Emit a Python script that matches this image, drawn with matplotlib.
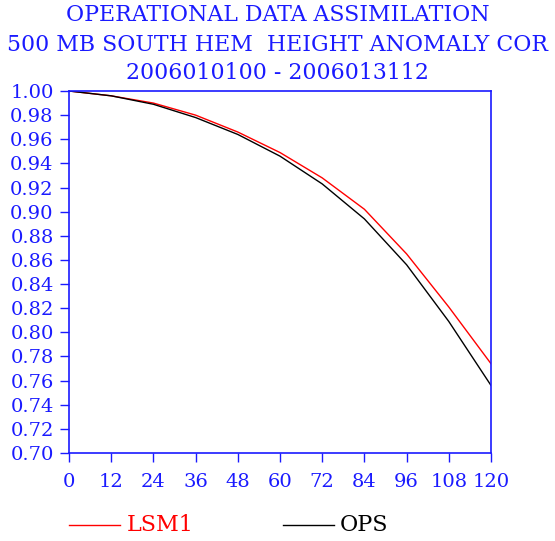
import matplotlib
matplotlib.use("Agg")
import matplotlib.pyplot as plt
from matplotlib.lines import Line2D

# ---------- Data ----------
forecast_hours = [0, 12, 24, 36, 48, 60, 72, 84, 96, 108, 120]
lsm1_cor = [1.000, 0.996, 0.990, 0.980, 0.966, 0.949, 0.928, 0.902, 0.865, 0.821, 0.774]
ops_cor = [1.000, 0.996, 0.989, 0.978, 0.964, 0.946, 0.923, 0.894, 0.856, 0.809, 0.756]
y_ticks = [0.70 + 0.02 * i for i in range(16)]
title_lines = ["OPERATIONAL DATA ASSIMILATION",
               "500 MB SOUTH HEM  HEIGHT ANOMALY COR",
               "2006010100 - 2006013112"]

BLUE = "#1a1aff"
FONT = "DejaVu Serif"

# ---------- Plot ----------
fig = plt.figure(figsize=(5.55, 5.41), dpi=100)
ax = fig.add_axes([69 / 555, 88 / 541, 422 / 555, 362 / 541])

ax.plot(forecast_hours, lsm1_cor, color="red", lw=1.0)
ax.plot(forecast_hours, ops_cor, color="black", lw=1.0)

ax.set_xlim(0, 120)
ax.set_ylim(0.70, 1.00)
ax.set_xticks(forecast_hours)
ax.set_xticklabels([str(h) for h in forecast_hours], family=FONT, fontsize=14, color=BLUE)
ax.set_yticks(y_ticks)
ax.set_yticklabels(["%.2f" % v for v in y_ticks], family=FONT, fontsize=14, color=BLUE)
ax.tick_params(axis="both", direction="out", length=6.5, width=1.0, color=BLUE)
ax.tick_params(axis="x", pad=8)
ax.tick_params(axis="y", pad=4.5)
for sp in ax.spines.values():
    sp.set_color(BLUE)
    sp.set_linewidth(1.2)

# title (three centred lines)
for i, y in enumerate([15, 45, 73]):
    fig.text(0.5, 1 - y / 541, title_lines[i], ha="center", va="center",
             family=FONT, fontsize=15.8, color=BLUE)

# legend drawn under the axes
fig.add_artist(Line2D([69 / 555, 120 / 555], [16 / 541, 16 / 541], color="red", lw=1.0))
fig.text(127 / 555, 16 / 541, "LSM1", ha="left", va="center", family=FONT, fontsize=16, color="red")
fig.add_artist(Line2D([283 / 555, 334 / 555], [16 / 541, 16 / 541], color="black", lw=1.0))
fig.text(340 / 555, 16 / 541, "OPS", ha="left", va="center", family=FONT, fontsize=16, color="black")

fig.savefig("out.png", dpi=100)
